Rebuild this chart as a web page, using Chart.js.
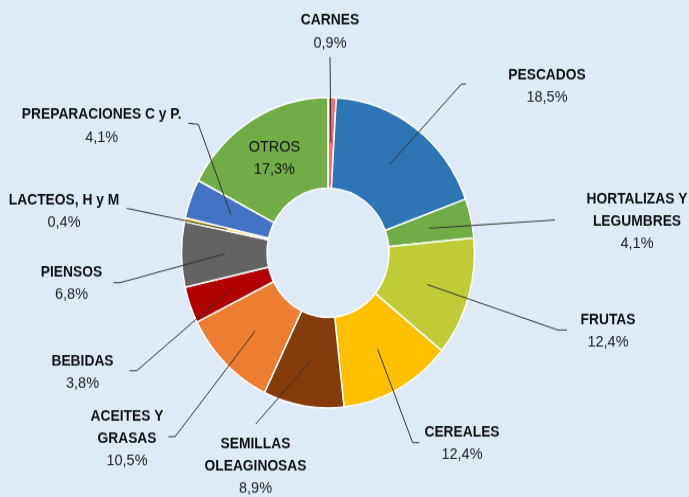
<!DOCTYPE html>
<html>
<head>
<meta charset="utf-8">
<script src="https://cdn.jsdelivr.net/npm/chart.js@4/dist/chart.umd.min.js"></script>
<style>
html,body{margin:0;padding:0;background:#deebf7;overflow:hidden;}
</style>
</head>
<body>
<canvas id="c" width="689" height="469" style="display:block;width:689px;height:497px;"></canvas>
<script>
// ---- data ----
const categories = ['CARNES', 'PESCADOS', ['HORTALIZAS Y', 'LEGUMBRES'], 'FRUTAS', 'CEREALES',
  ['SEMILLAS', 'OLEAGINOSAS'], ['ACEITES Y', 'GRASAS'], 'BEBIDAS', 'PIENSOS', 'LACTEOS, H y M',
  'PREPARACIONES C y P.', 'OTROS'];
const shares = [0.9, 18.5, 4.1, 12.4, 12.4, 8.9, 10.5, 3.8, 6.8, 0.4, 4.1, 17.3];
const sliceColors = ['#ff6b6b', '#2e75b6', '#70ad47', '#bfcc36', '#ffc000', '#843c0c',
  '#ed7d31', '#b00000', '#636363', '#ffc000', '#4472c4', '#70ad47'];

// ---- label layout (picture px; first-line centre and leader path from label side) ----
const labelLayout = [
  {tx: 330, ty: 20.7, leader: [[330, 57]]},
  {tx: 547, ty: 75, leader: [[466, 84], [461.5, 84]]},
  {tx: 637, ty: 199.3, leader: [[555, 220]]},
  {tx: 608, ty: 320, leader: [[567, 330], [558, 330]]},
  {tx: 462, ty: 432.7, leader: [[419.3, 442.7], [412.7, 442.7]]},
  {tx: 255.5, ty: 444, leader: [[255.7, 424]]},
  {tx: 127, ty: 416.7, leader: [[168.3, 436.7], [175, 436.7]]},
  {tx: 82.5, ty: 361.7, leader: [[129.3, 370.7], [136.7, 370.7]]},
  {tx: 71.5, ty: 272.7, leader: [[113.3, 282.7], [120, 282.7]]},
  {tx: 64, ty: 200, leader: [[126.7, 208.3]]},
  {tx: 101.7, ty: 115, leader: [[188.3, 123.3], [198.3, 124.3]]},
  {inside: true}
];

const S = 497 / 469;          // vertical stretch of the picture
const LH = 22.3 / S;          // line height in canvas px
const fmt = v => v.toFixed(1).replace('.', ',') + '%';

const labelPlugin = {
  id: 'sliceLabels',
  afterDatasetsDraw(chart) {
    const ctx = chart.ctx;
    const meta = chart.getDatasetMeta(0);
    ctx.save();
    meta.data.forEach((arc, i) => {
      const p = arc.getProps(['x', 'y', 'startAngle', 'endAngle', 'innerRadius', 'outerRadius'], true);
      const mid = (p.startAngle + p.endAngle) / 2;
      const r = (p.innerRadius + p.outerRadius) / 2;
      const ax = p.x + Math.cos(mid) * r, ay = p.y + Math.sin(mid) * r;
      const L = labelLayout[i];
      const names = [].concat(categories[i]);
      const pct = fmt(shares[i]);
      ctx.textAlign = 'center';
      ctx.textBaseline = 'middle';
      if (L.inside) {
        const lines = names.concat([pct]);
        let y0 = ay - (lines.length - 1) * LH / 2;
        ctx.fillStyle = '#141414';
        ctx.font = '14.5px "Liberation Sans", Arial, sans-serif';
        lines.forEach((t, k) => ctx.fillText(t, ax, y0 + k * LH));
        return;
      }
      // leader
      ctx.strokeStyle = '#333333';
      ctx.lineWidth = 1;
      ctx.beginPath();
      ctx.moveTo(L.leader[0][0], L.leader[0][1] / S);
      for (let k = 1; k < L.leader.length; k++) ctx.lineTo(L.leader[k][0], L.leader[k][1] / S);
      ctx.lineTo(ax, ay);
      ctx.stroke();
      // text
      const y0 = L.ty / S;
      ctx.fillStyle = '#0f0f0f';
      ctx.font = 'bold 13.8px "Liberation Sans", Arial, sans-serif';
      names.forEach((t, k) => ctx.fillText(t, L.tx, y0 + k * LH));
      ctx.fillStyle = '#1e1e1e';
      ctx.font = '14.5px "Liberation Sans", Arial, sans-serif';
      ctx.fillText(pct, L.tx, y0 + names.length * LH);
    });
    ctx.restore();
  }
};

new Chart(document.getElementById('c'), {
  type: 'doughnut',
  data: {
    labels: categories,
    datasets: [{
      data: shares,
      backgroundColor: sliceColors,
      borderColor: '#ffffff',
      borderWidth: 1.5
    }]
  },
  options: {
    responsive: false,
    animation: false,
    radius: 146.5,
    cutout: '41.6%',
    rotation: 0,
    layout: {padding: {left: 0, right: 33, top: 8, bottom: 0}},
    plugins: {legend: {display: false}, tooltip: {enabled: false}}
  },
  plugins: [labelPlugin]
});
</script>
</body>
</html>
